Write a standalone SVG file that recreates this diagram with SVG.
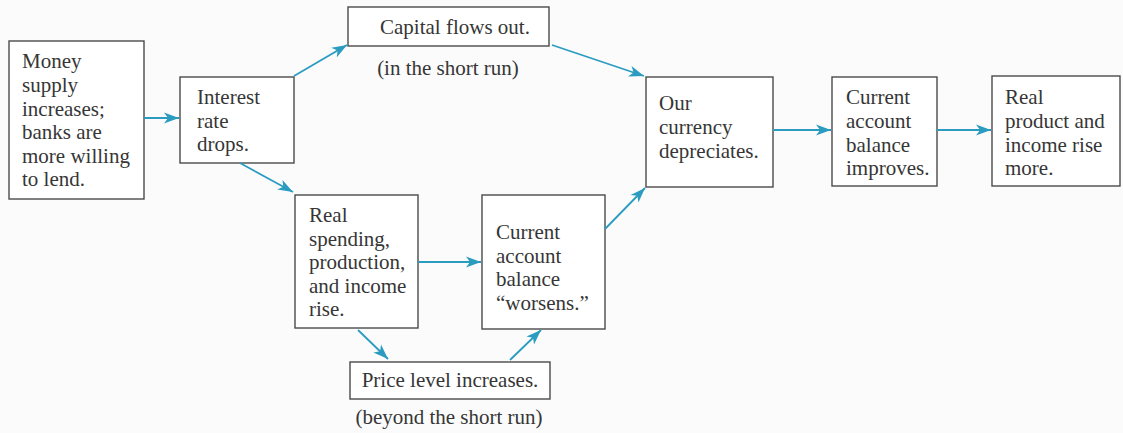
<svg xmlns="http://www.w3.org/2000/svg" width="1123" height="433" viewBox="0 0 1123 433">
<defs>
<marker id="ah" markerUnits="userSpaceOnUse" markerWidth="16" markerHeight="12" refX="15" refY="6" orient="auto">
<path d="M0,0.5 L15,6 L0,11.5 L4,6 z" fill="#2b9cc0"/>
</marker>
<style>
.box{fill:#ffffff;stroke:#4a4a4a;stroke-width:1.4}
.t{font-family:"Liberation Serif","Times New Roman",serif;font-size:21px;fill:#363636}
.c{text-anchor:middle}
.conn{stroke:#2b9cc0;stroke-width:1.8;fill:none;marker-end:url(#ah)}
</style>
</defs>
<rect x="0" y="0" width="1123" height="433" fill="#fbfbfb"/>
<g id="n-money">
<rect class="box" x="9" y="41" width="135" height="158"/>
<text class="t" x="22" y="68">Money</text>
<text class="t" x="22" y="92">supply</text>
<text class="t" x="22" y="115.5">increases;</text>
<text class="t" x="22" y="139">banks are</text>
<text class="t" x="22" y="162.5">more willing</text>
<text class="t" x="22" y="186">to lend.</text>
</g>
<g id="n-interest">
<rect class="box" x="180" y="77" width="114" height="86"/>
<text class="t" x="197" y="104">Interest</text>
<text class="t" x="197" y="127.5">rate</text>
<text class="t" x="197" y="151">drops.</text>
</g>
<g id="n-capital">
<rect class="box" x="348" y="7" width="201" height="39"/>
<text class="t c" x="455" y="34">Capital flows out.</text>
<text class="t c" x="448" y="75">(in the short run)</text>
</g>
<g id="n-realspending">
<rect class="box" x="295" y="195" width="123" height="133"/>
<text class="t" x="309" y="222">Real</text>
<text class="t" x="309" y="245.5">spending,</text>
<text class="t" x="309" y="269">production,</text>
<text class="t" x="309" y="292.5">and income</text>
<text class="t" x="309" y="316">rise.</text>
</g>
<g id="n-worsens">
<rect class="box" x="482" y="195" width="123" height="134"/>
<text class="t" x="496" y="239">Current</text>
<text class="t" x="496" y="262.5">account</text>
<text class="t" x="496" y="286">balance</text>
<text class="t" x="496" y="309.5">“worsens.”</text>
</g>
<g id="n-price">
<rect class="box" x="350" y="362" width="200" height="37"/>
<text class="t c" x="450" y="387">Price level increases.</text>
<text class="t c" x="449" y="424">(beyond the short run)</text>
</g>
<g id="n-currency">
<rect class="box" x="646" y="77" width="127" height="110"/>
<text class="t" x="659" y="110">Our</text>
<text class="t" x="659" y="134">currency</text>
<text class="t" x="659" y="157.5">depreciates.</text>
</g>
<g id="n-improves">
<rect class="box" x="832" y="77" width="105" height="109"/>
<text class="t" x="846" y="104">Current</text>
<text class="t" x="846" y="128">account</text>
<text class="t" x="846" y="151.5">balance</text>
<text class="t" x="846" y="175">improves.</text>
</g>
<g id="n-realproduct">
<rect class="box" x="992" y="76" width="128" height="110"/>
<text class="t" x="1005" y="104">Real</text>
<text class="t" x="1005" y="128">product and</text>
<text class="t" x="1005" y="151.5">income rise</text>
<text class="t" x="1005" y="175">more.</text>
</g>
<g id="connectors">
<line class="conn" x1="144" y1="118" x2="179" y2="118"/>
<line class="conn" x1="294" y1="76" x2="347" y2="45"/>
<line class="conn" x1="552" y1="45" x2="644" y2="76"/>
<line class="conn" x1="240" y1="163" x2="293" y2="192"/>
<line class="conn" x1="418" y1="262" x2="481" y2="262"/>
<line class="conn" x1="358" y1="330" x2="388" y2="359"/>
<line class="conn" x1="510" y1="360" x2="541" y2="330"/>
<line class="conn" x1="605" y1="229" x2="645" y2="188"/>
<line class="conn" x1="773" y1="130" x2="831" y2="130"/>
<line class="conn" x1="937" y1="130" x2="991" y2="130"/>
</g>
</svg>
